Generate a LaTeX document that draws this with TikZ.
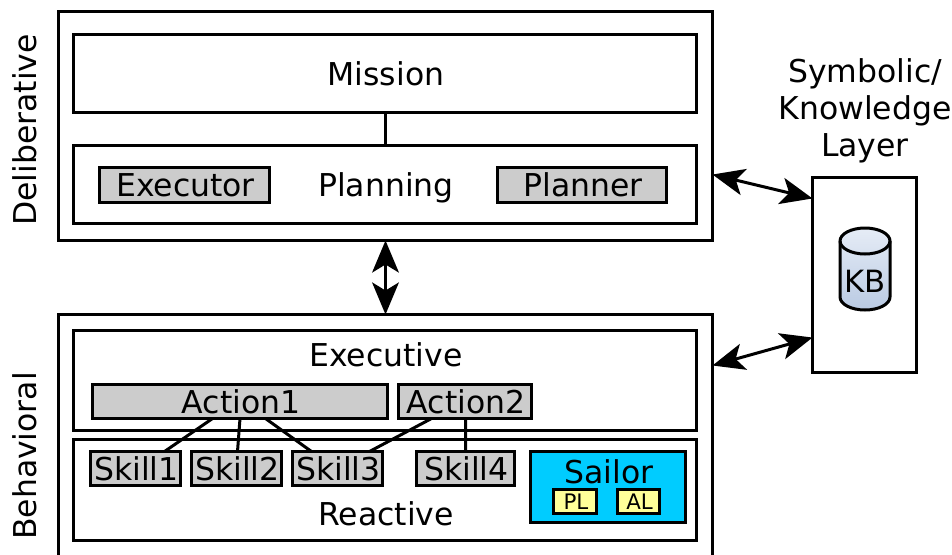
\documentclass[tikz,border=0pt]{standalone}
\usepackage{fontspec}
\setmainfont{DejaVu Sans}
\usetikzlibrary{arrows.meta}
\newcommand{\bx}[7][]{% style, name, x0,y0,x1,y1, text
  \pgfmathsetmacro{\bxw}{(#5-#3)*0.75}
  \pgfmathsetmacro{\bxh}{(#6-#4)*0.75}
  \node[#1,minimum width=\bxw pt,minimum height=\bxh pt] (#2) at ({(#3+#5)/2-0.5},{(#4+#6)/2-0.5}) {\hspace{1.5pt}#7};
}
\tikzset{
  base/.style={draw=black,line width=2.25pt,inner sep=0pt,outer sep=0pt,font=\fontsize{23.6}{27}\selectfont,text=black,fill=white,text height=17.6pt,text depth=0pt},
  outerbox/.style={base},
  graybox/.style={base,fill=boxgray},
  yellowbox/.style={base,fill=tagyellow,font=\fontsize{16}{18}\selectfont,text height=12.4pt},
  lbl/.style={inner sep=0pt,outer sep=0pt,font=\fontsize{23.6}{27}\selectfont,text=black,text height=17.2pt,text depth=0pt},
  link/.style={draw=black,line width=2.25pt},
  bigarrow/.style={draw=black,line width=2.25pt,{Stealth[length=24pt,width=20pt,inset=6pt]}-{Stealth[length=24pt,width=20pt,inset=6pt]}},
}
\definecolor{boxgray}{HTML}{CCCCCC}
\definecolor{sailorblue}{HTML}{00CCFF}
\definecolor{tagyellow}{HTML}{FFFF99}
\definecolor{cyltop}{HTML}{E6ECF6}
\definecolor{cylbot}{HTML}{B9CAE3}
\begin{document}
\begin{tikzpicture}[x=0.75pt,y=-0.75pt]
\useasboundingbox (0,0) rectangle (952,554);
\clip (0,0) rectangle (952,554);
% Deliberative
\bx[outerbox]{delib}{59}{12}{713}{241}{}
\bx[outerbox]{mission}{74}{35}{697}{113}{Mission}
\bx[outerbox]{planning}{74}{146}{697}{224}{Planning}
\bx[graybox]{executor}{100}{168}{270}{203}{Executor}
\bx[graybox]{planner}{498}{168}{667}{203}{Planner}
\draw[link] (mission) -- (planning);
% Behavioral
\bx[outerbox]{behav}{59}{315}{713}{575}{}
\bx[outerbox]{executive}{74}{331}{697}{431}{}
\node[lbl] (executivelbl) at (386,355) {Executive};
\bx[outerbox]{reactive}{74}{440}{697}{541}{}
\node[lbl] (reactivelbl) at (386,514) {Reactive};
\bx[graybox]{a1}{93}{385}{388}{419}{Action1}
\bx[graybox]{a2}{399}{385}{532}{419}{Action2}
\bx[graybox]{s1}{91}{452}{181}{486}{Skill1}
\bx[graybox]{s2}{192}{452}{282}{486}{Skill2}
\bx[graybox]{s3}{293}{452}{383}{486}{Skill3}
\bx[graybox]{s4}{417}{452}{515}{486}{Skill4}
\draw[link] ([xshift=-20.6pt]a1.south) -- ([xshift=21.75pt]s1.north);
\draw[link] (a1.south) -- ([xshift=0.75pt]s2.north);
\draw[link] ([xshift=19.1pt]a1.south) -- ([xshift=-19.5pt]s3.north);
\draw[link] ([xshift=-25.1pt]a2.south) -- ([xshift=24pt]s3.north);
\draw[link] ([xshift=0.4pt]a2.south) -- (s4.north);
\bx[outerbox,fill=sailorblue]{sailor}{531}{452}{686}{523}{}
\node[lbl] (sailorlbl) at (609,472) {Sailor};
\bx[yellowbox]{pl}{554}{490}{597}{514}{PL}
\bx[yellowbox]{al}{618}{490}{660}{514}{AL}
% Knowledge layer
\bx[outerbox]{kbox}{813}{178}{917}{373}{}
\draw[line width=2.25pt,top color=cyltop,bottom color=cylbot]
  (840,241) -- (840,297) arc[start angle=180,end angle=0,x radius=25,y radius=13]
  -- (890,241) arc[start angle=0,end angle=-180,x radius=25,y radius=13] -- cycle;
\draw[line width=2.25pt] (840,241) arc[start angle=180,end angle=0,x radius=25,y radius=13];
\node[lbl,font=\fontsize{23}{26}\selectfont] (kb) at (865,281) {KB};
\node[lbl] (sym) at (865,71) {Symbolic/};
\node[lbl] (know) at (865,108) {Knowledge};
\node[lbl] (layer) at (865,145) {Layer};
\node[lbl,rotate=90] (dlbl) at (25,130) {Deliberative};
\node[lbl,rotate=90] (blbl) at (25,456) {Behavioral};
% Arrows
\draw[bigarrow] (delib.south) -- (behav.north);
\draw[bigarrow] ([yshift=-36.4pt]delib.east) -- ([yshift=57.4pt]kbox.west);
\draw[bigarrow] ([yshift=59.25pt]behav.east) -- ([yshift=-46.9pt]kbox.west);
\end{tikzpicture}
\end{document}
